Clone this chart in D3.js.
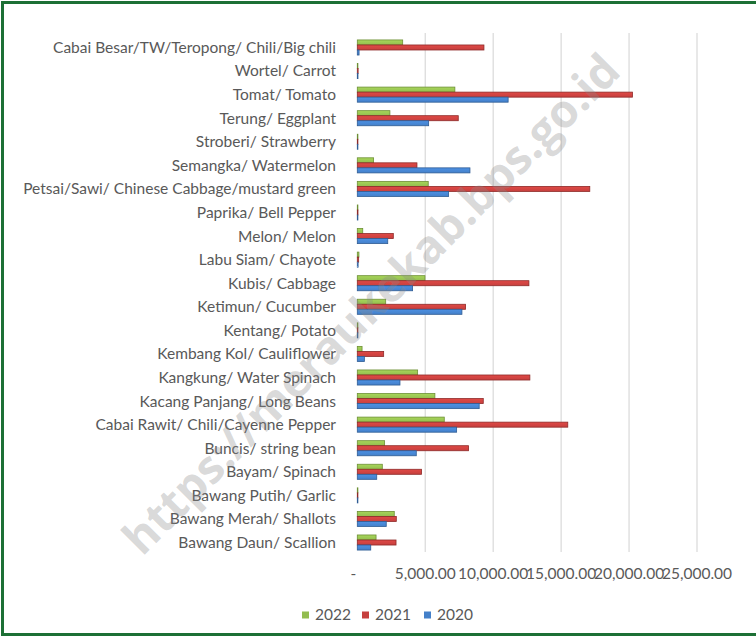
<!DOCTYPE html>
<html><head><meta charset="utf-8">
<script src="https://cdn.jsdelivr.net/npm/d3@7"></script>
<style>html,body{margin:0;padding:0;background:#fff;}svg{display:block;}</style>
</head><body>
<script>
const categories = ["Cabai Besar/TW/Teropong/ Chili/Big chili","Wortel/ Carrot","Tomat/ Tomato","Terung/ Eggplant","Stroberi/ Strawberry","Semangka/ Watermelon","Petsai/Sawi/ Chinese Cabbage/mustard green","Paprika/ Bell Pepper","Melon/ Melon","Labu Siam/ Chayote","Kubis/ Cabbage","Ketimun/ Cucumber","Kentang/ Potato","Kembang Kol/ Cauliflower","Kangkung/ Water Spinach","Kacang Panjang/ Long Beans","Cabai Rawit/ Chili/Cayenne Pepper","Buncis/ string bean","Bayam/ Spinach","Bawang Putih/ Garlic","Bawang Merah/ Shallots","Bawang Daun/ Scallion"];
const values2022 = [3340,40,7180,2400,20,1200,5220,30,400,120,4980,2090,30,350,4440,5710,6400,2010,1840,30,2720,1380];
const values2021 = [9320,60,20250,7430,30,4390,17110,50,2650,100,12630,7970,40,1940,12700,9270,15490,8190,4730,40,2870,2850];
const values2020 = [130,50,11100,5250,30,8290,6720,40,2240,60,4070,7700,30,520,3140,8970,7310,4340,1430,30,2130,990];
const seriesNames = ["2022","2021","2020"];
const xTicks = [0,5000,10000,15000,20000,25000];
const tickLabels = ["-","5,000.00","10,000.00","15,000.00","20,000.00","25,000.00"];
const watermark = "https://meraukekab.bps.go.id";

const colors = {"2022":"#93bd4f","2021":"#c6403e","2020":"#4480c9"};
const strokes = {"2022":"#6d8f35","2021":"#8e2a28","2020":"#2f5c94"};
const seriesValues = {"2022":values2022,"2021":values2021,"2020":values2020};

const W=756,H=637;
const svg=d3.select("body").append("svg").attr("width",W).attr("height",H);
svg.append("rect").attr("width",W).attr("height",H).attr("fill","#fff");

// gradients
const defs=svg.append("defs");
seriesNames.forEach(s=>{
  const g=defs.append("linearGradient").attr("id","g"+s).attr("x1",0).attr("y1",0).attr("x2",0).attr("y2",1);
  g.append("stop").attr("offset","0%").attr("stop-color",d3.color(colors[s]).brighter(0.35));
  g.append("stop").attr("offset","100%").attr("stop-color",colors[s]);
});

const x=d3.scaleLinear().domain([0,25000]).range([357.3,697]);
const y=d3.scaleBand().domain(categories).range([35.7,554.3]);
const ys=d3.scaleBand().domain(seriesNames).range([y.bandwidth()*0.18,y.bandwidth()*0.82]);
const plotTop=33, plotBottom=552;

// gridlines
svg.append("g").selectAll("line").data(xTicks.slice(1)).join("line")
  .attr("x1",d=>x(d)).attr("x2",d=>x(d)).attr("y1",plotTop).attr("y2",plotBottom)
  .attr("stroke","#d9d9d9").attr("stroke-width",1.2);

// bars
const rows=[];
categories.forEach((c,i)=>seriesNames.forEach(s=>rows.push({c,s,v:seriesValues[s][i]})));
svg.append("g").selectAll("rect").data(rows).join("rect")
  .attr("x",x(0)).attr("y",d=>y(d.c)+ys(d.s)).attr("height",ys.bandwidth())
  .attr("width",d=>Math.max(0.6,x(d.v)-x(0)))
  .attr("fill",d=>"url(#g"+d.s+")").attr("stroke",d=>strokes[d.s]).attr("stroke-width",0.8);

// category labels
const font="Lato, 'Open Sans', sans-serif";
const lab=svg.append("g").selectAll("text").data(categories).join("text")
  .attr("x",336).attr("y",d=>y(d)+y.bandwidth()/2).attr("dy","0.35em")
  .attr("text-anchor","end").attr("font-family",font).attr("font-size",14)
  .attr("fill","#595959").text(d=>d);
const longest=lab.filter(d=>d.startsWith("Petsai")).node().getComputedTextLength();
const fs=14*313/longest;
lab.attr("font-size",fs);

// x tick labels
svg.append("g").selectAll("text").data(xTicks).join("text")
  .attr("x",(d,i)=>i===0?x(d)-4:x(d)).attr("y",574).attr("dy","0.35em")
  .attr("text-anchor","middle").attr("font-family",font).attr("font-size",fs)
  .attr("fill","#595959").text((d,i)=>tickLabels[i]);

// legend
const lg=svg.append("g");
const legX=[302,362,424];
seriesNames.forEach((s,i)=>{
  lg.append("rect").attr("x",legX[i]).attr("y",611.5).attr("width",7).attr("height",7).attr("fill",colors[s]);
  lg.append("text").attr("x",legX[i]+13).attr("y",615).attr("dy","0.35em")
    .attr("font-family",font).attr("font-size",fs).attr("fill","#595959").text(s);
});

// watermark
const wm=svg.append("text").attr("transform","translate(371,304) rotate(-45.2)")
  .attr("text-anchor","middle").attr("dy","0.35em")
  .attr("font-family","'Open Sans', sans-serif").attr("font-weight","bold").attr("font-size",42)
  .attr("fill","#8a8a8a").attr("fill-opacity",0.32).text(watermark);
const wl=wm.node().getComputedTextLength();
wm.attr("font-size",42*682/wl);

// border
svg.append("rect").attr("x",2.5).attr("y",2.5).attr("width",W+10).attr("height",H-5)
  .attr("fill","none").attr("stroke","#1d7035").attr("stroke-width",3);
</script>
</body></html>
